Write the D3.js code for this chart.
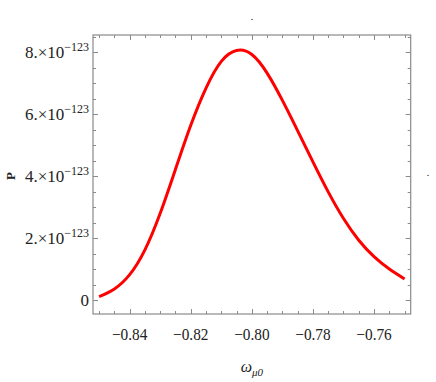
<!DOCTYPE html>
<html>
<head>
<meta charset="utf-8">
<script src="https://cdn.jsdelivr.net/npm/d3@7"></script>
<style>
  body { margin: 0; background: #fff; }
  text { font-family: "Liberation Serif", "DejaVu Serif", serif; fill: #222; }
</style>
</head>
<body>
<script>
// omega_mu0 values and P (in units of 1e-123)
const omega = [-0.850, -0.845, -0.840, -0.835, -0.830, -0.825, -0.820, -0.815, -0.810, -0.805,
               -0.800, -0.795, -0.790, -0.785, -0.780, -0.775, -0.770, -0.765, -0.760, -0.755, -0.750];
const prob  = [0.12, 0.37, 0.83, 1.63, 2.81, 4.23, 5.65, 6.85, 7.71, 8.06,
               7.93, 7.33, 6.45, 5.47, 4.47, 3.50, 2.64, 1.94, 1.41, 1.01, 0.69];
const xTicks = [-0.84, -0.82, -0.80, -0.78, -0.76];
const xTickLabels = ["\u22120.84", "\u22120.82", "\u22120.80", "\u22120.78", "\u22120.76"];
const yTicks = [0, 2, 4, 6, 8];
const yTickMant = ["0", "2.\u00d710", "4.\u00d710", "6.\u00d710", "8.\u00d710"];
const yExp = "\u2212123";

const width = 436, height = 382;
const margin = { top: 35, right: 25.3, bottom: 68, left: 93 };

const svg = d3.select("body").append("svg")
  .attr("width", width)
  .attr("height", height);

const x = d3.scaleLinear()
  .domain([-0.852, -0.748])
  .range([margin.left, width - margin.right]);

const y = d3.scaleLinear()
  .domain([-0.44, 8.56])
  .range([height - margin.bottom, margin.top]);

const frameCol = "#8a8a8a";
const x0 = x.range()[0], x1 = x.range()[1];
const y0 = y.range()[0], y1 = y.range()[1];

// ticks (inside, on all four sides)
const xMinor = d3.range(-0.85, -0.7499, 0.005);
const yMinor = d3.range(0, 8.51, 0.5);
const isMajorX = v => xTicks.some(t => Math.abs(t - v) < 1e-6);
const isMajorY = v => yTicks.some(t => Math.abs(t - v) < 1e-6);

const ticks = svg.append("g").attr("stroke", frameCol).attr("stroke-width", 1);
xMinor.forEach(v => {
  const len = isMajorX(v) ? 5 : 3;
  const px = Math.round(x(v)) + 0.5;
  ticks.append("line").attr("x1", px).attr("x2", px).attr("y1", y0).attr("y2", y0 - len);
  ticks.append("line").attr("x1", px).attr("x2", px).attr("y1", y1).attr("y2", y1 + len);
});
yMinor.forEach(v => {
  const len = isMajorY(v) ? 5 : 3;
  const py = Math.round(y(v)) + 0.5;
  ticks.append("line").attr("y1", py).attr("y2", py).attr("x1", x0).attr("x2", x0 + len);
  ticks.append("line").attr("y1", py).attr("y2", py).attr("x1", x1).attr("x2", x1 - len);
});

// frame
svg.append("rect")
  .attr("x", x0).attr("y", y1)
  .attr("width", x1 - x0).attr("height", y0 - y1)
  .attr("fill", "none")
  .attr("stroke", frameCol)
  .attr("stroke-width", 1.2);

// x tick labels
xTicks.forEach((t, i) => {
  svg.append("g")
    .attr("transform", `translate(${x(t)},${y0 + 26})`)
    .append("text")
    .attr("transform", "scale(0.9,1)")
    .attr("text-anchor", "middle")
    .style("font-size", "17px")
    .text(xTickLabels[i]);
});

// y tick labels
yTicks.forEach((t, i) => {
  const txt = svg.append("text")
    .attr("x", x0 - 4)
    .attr("y", y(t) + 6)
    .attr("text-anchor", "end")
    .style("font-size", "17px");
  txt.append("tspan").text(yTickMant[i]);
  if (t !== 0) {
    txt.append("tspan")
      .attr("dy", -7)
      .style("font-size", "12px")
      .text(yExp);
  }
});

// curve
const line = d3.line()
  .x((d, i) => x(omega[i]))
  .y(d => y(d))
  .curve(d3.curveNatural);

svg.append("path")
  .datum(prob)
  .attr("d", line)
  .attr("fill", "none")
  .attr("stroke", "#ff0000")
  .attr("stroke-width", 3)
  .attr("stroke-linejoin", "round");

// axis labels
svg.append("text")
  .attr("transform", `translate(15,176) rotate(-90)`)
  .attr("text-anchor", "middle")
  .style("font-size", "13px")
  .style("font-weight", "bold")
  .text("P");

const xl = svg.append("text")
  .attr("x", x(-0.80))
  .attr("y", 372)
  .attr("text-anchor", "middle")
  .style("font-size", "16px")
  .style("font-style", "italic");
xl.append("tspan").text("\u03c9");
xl.append("tspan").attr("dy", 4).style("font-size", "11px").text("\u03bc0");

// stray label dots
svg.append("text").attr("x", 252).attr("y", 20).attr("text-anchor", "middle")
  .style("font-size", "10px").style("fill", "#000").text(".");
svg.append("text").attr("x", 428).attr("y", 176).attr("text-anchor", "middle")
  .style("font-size", "10px").style("fill", "#000").text(".");
</script>
</body>
</html>
